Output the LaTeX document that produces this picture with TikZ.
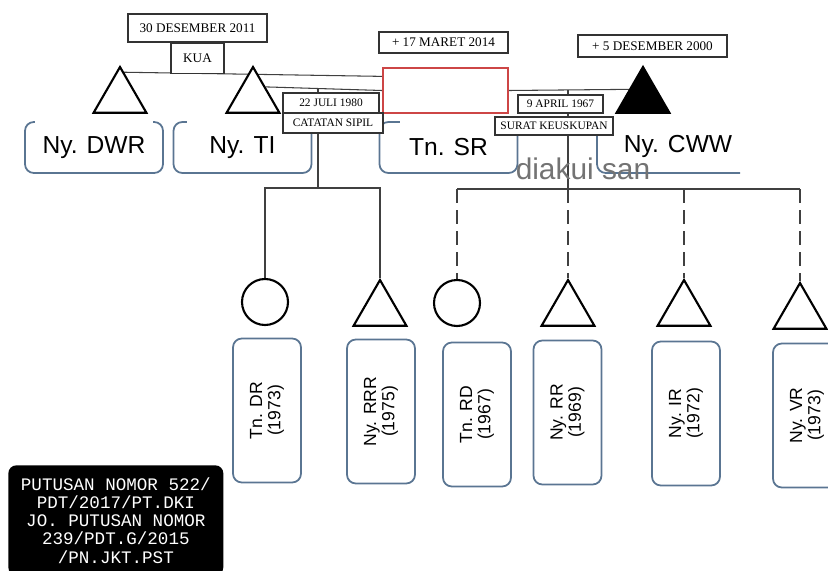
\documentclass[tikz,border=0pt]{standalone}
\usepackage{fontspec}
\setmainfont{Liberation Serif}
\setsansfont{Liberation Sans}
\setmonofont{Liberation Mono}
\usepackage{tikz}
\usetikzlibrary{shapes.geometric, positioning, calc, backgrounds}
\definecolor{boxblue}{RGB}{90,117,146}
\definecolor{deadred}{RGB}{205,70,70}
\tikzset{
	male/.style={regular polygon, regular polygon sides=3, draw, line width=1.2pt, fill=white, minimum size=1.22cm, inner sep=0pt},
	female/.style={circle, draw, line width=1.2pt, fill=white, minimum size=0.92cm, inner sep=0pt},
	deceased/.style={male, fill=black},
	malebox/.style={rectangle, draw=deadred, line width=1.2pt, fill=white, minimum width=2.5cm, minimum height=0.9cm},
	namebox/.style={rectangle, draw=boxblue, line width=1pt, rounded corners=5pt, minimum width=2.76cm, minimum height=1.02cm, font=\sffamily\fontsize{14}{16}\selectfont},
	childbox/.style={namebox, rotate=90, minimum width=2.88cm, minimum height=1.36cm, align=center, font=\sffamily\fontsize{10}{10.5}\selectfont},
	datebox/.style={rectangle, draw=black!80, line width=0.7pt, fill=white, inner sep=0pt, font=\fontsize{7.5}{8}\selectfont},
	smalldate/.style={datebox, font=\fontsize{6.5}{7}\selectfont},
	line/.style={draw=black!75, line width=0.6pt},
	dashline/.style={line, dash pattern=on 8pt off 4pt}
}

\begin{document}
\begin{tikzpicture}[x=0.02cm, y=-0.02cm]
	\useasboundingbox (0,0) rectangle (828,571);
	\clip (0,0) rectangle (828,571);
	
	% Parents: name boxes
	\node[namebox] (dwrbox) at (94,147.5) {Ny. DWR};
	\node[namebox] (tibox) at (242.5,147.5) {Ny. TI};
	\node[namebox] (srbox) at (448.5,147.5) {Tn. SR};
	% open top edges
	\fill[white] (35,118) rectangle (153,126);
	\fill[white] (187,118) rectangle (300,126);
	\fill[white] (400,118) rectangle (495,126);
	\draw[boxblue, line width=1pt, rounded corners=5pt] (597,122) -- (597,173) -- (740,173);
	\node[font=\sffamily\fontsize{14}{16}\selectfont] (cwwname) at (678,146) {Ny. CWW};
	
	% Parents: symbols
	\node[male] (dwr) at (120,97.5) {};
	\node[male] (ti) at (253,97.5) {};
	\node[malebox] (sr) at (445.5,90.5) {};
	\node[deceased] (cww) at (643,97.5) {};
	
	% Dates
	\node[datebox, minimum width=2.78cm, minimum height=0.56cm] (wed1) at (197.5,28) {30 DESEMBER 2011};
	\node[datebox, minimum width=1.06cm, minimum height=0.6cm, below=0pt of wed1] (kua) {KUA};
	\node[datebox, minimum width=2.58cm, minimum height=0.42cm] (srdeath) at (443.5,42.5) {+ 17 MARET 2014};
	\node[datebox, minimum width=2.98cm, minimum height=0.44cm] (cwwdeath) at (652.5,46) {+ 5 DESEMBER 2000};
	\node[smalldate, minimum width=1.92cm, minimum height=0.4cm] (wed2) at (331,103) {22 JULI 1980};
	\node[smalldate, minimum width=2.0cm, minimum height=0.4cm] (sipil) at (333,123) {CATATAN SIPIL};
	\node[smalldate, minimum width=1.7cm, minimum height=0.36cm] (wed3) at (560.5,104) {9 APRIL 1967};
	\node[smalldate, minimum width=2.36cm, minimum height=0.36cm] (church) at (554,126) {SURAT KEUSKUPAN};
	
	\node[text=black!55, font=\sffamily\fontsize{17}{17}\selectfont] (note) at (583,169) {diakui san};
	
	% Children: symbols
	\node[female] (dr) at (265,302) {};
	\node[male] (rrr) at (380,310.5) {};
	\node[female] (rd) at (457,303) {};
	\node[male] (rr) at (568,310.5) {};
	\node[male] (ir) at (684,310.5) {};
	\node[male] (vr) at (800,313.5) {};
	
	% Children: name boxes
	\node[childbox] (drbox) at (267,410.5) {Tn. DR\\(1973)};
	\node[childbox] (rrrbox) at (381,411.5) {Ny. RRR\\(1975)};
	\node[childbox] (rdbox) at (477,414.5) {Tn. RD\\(1967)};
	\node[childbox] (rrbox) at (567.5,412.5) {Ny. RR\\(1969)};
	\node[childbox] (irbox) at (686,413.5) {Ny. IR\\(1972)};
	\node[childbox] (vrbox) at (807,415.5) {Ny. VR\\(1973)};
	
	% Court ruling
	\node[fill=black, rounded corners=4.5pt, minimum width=4.3cm, minimum height=2.2cm, anchor=north west,
		text=white, align=center, font=\ttfamily\fontsize{10}{10.4}\selectfont] (ruling) at (8,465)
		{PUTUSAN NOMOR 522/\\PDT/2017/PT.DKI\\JO. PUTUSAN NOMOR\\239/PDT.G/2015\\/PN.JKT.PST};
	
	% Connections
	\coordinate (tisr) at (318,89);
	\coordinate (j1) at (318,188);
	\coordinate (srcww) at (568,90.3);
	\coordinate (j2) at (568,189);
	\begin{scope}[on background layer]
		\draw[line] ($(dwr.corner 1)!0.15!(dwr.corner 3)$) -- ($(sr.north west)!0.2!(sr.south west)$);
		\draw[line] ($(ti.corner 1)!0.45!(ti.corner 3)$) -- (sr.west);
		\draw[line] (sr.east) -- ($(cww.corner 1)!0.5!(cww.corner 2)$);
		\draw[line] (tisr) -- (j1);
		\draw[line] (dr.north) |- (j1) -| (rrr.corner 1);
		\draw[line] (srcww) -- (j2);
		\draw[line] (rd.north |- j2) -- (vr.corner 1 |- j2);
		\foreach \c in {rd.north, rr.corner 1, ir.corner 1, vr.corner 1}
		\draw[dashline] (\c |- j2) -- (\c);
	\end{scope}
\end{tikzpicture}
\end{document}
